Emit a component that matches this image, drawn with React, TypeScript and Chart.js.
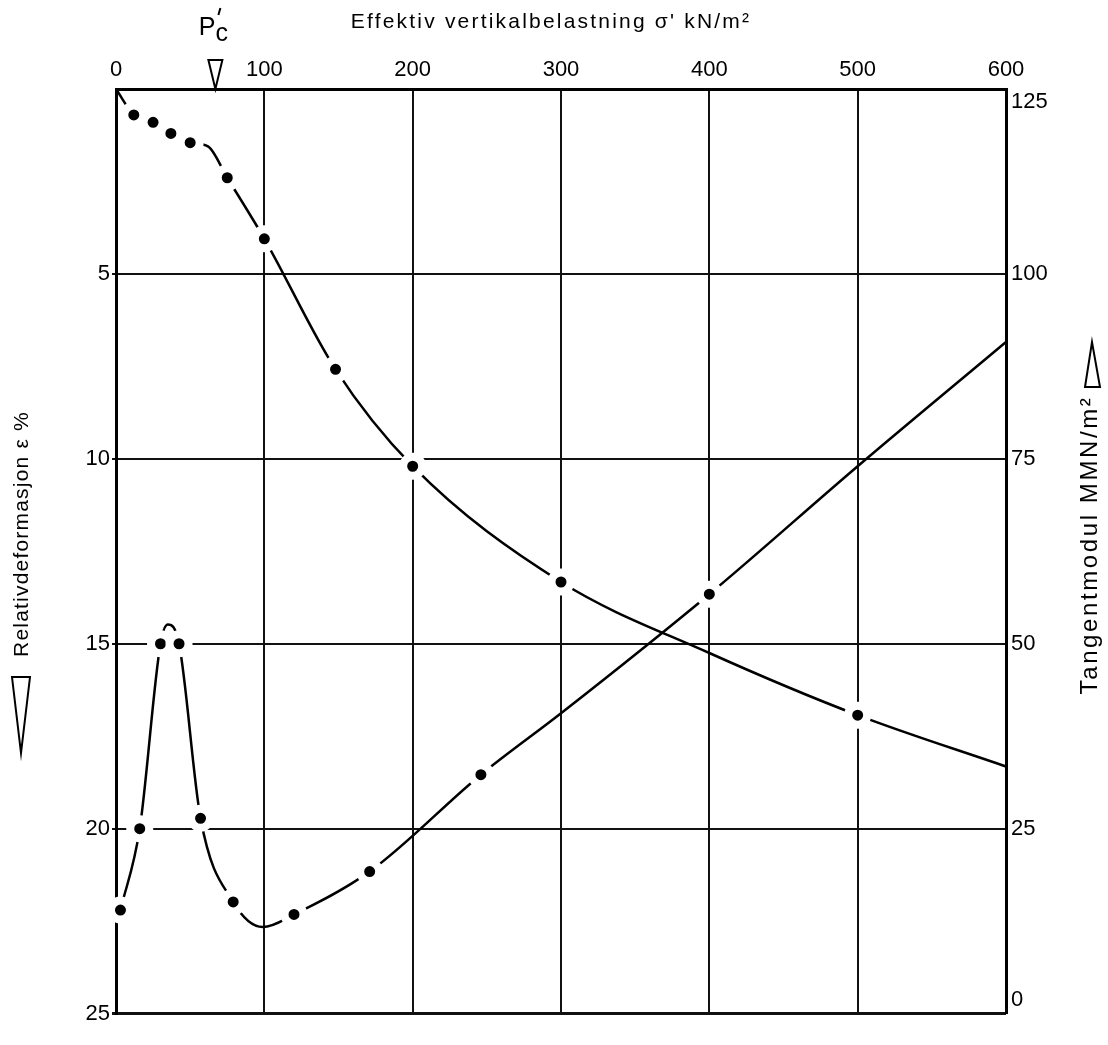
import React, { useEffect, useRef } from 'react';
import { Chart, registerables } from 'chart.js';

Chart.register(...registerables);

const FONT = '"Liberation Sans", Arial, Helvetica, sans-serif';

// Axis ticks
const loadTicks = [0, 100, 200, 300, 400, 500, 600];
const strainTicks = [0, 5, 10, 15, 20, 25];
const modulusTicks = [0, 25, 50, 75, 100, 125];

// Relativdeformasjon (left axis, %) vs effective vertical load (kN/m²)
const settlementLoad = [0, 12, 25, 37, 50, 62, 75, 100, 148, 200, 300, 400, 500, 600];
const settlementStrain = [0, 0.7, 0.9, 1.2, 1.45, 1.55, 2.4, 4.05, 7.58, 10.2, 13.33, 15.25, 16.93, 18.32];
const settlementMeasured = [false, true, true, true, true, false, true, true, true, true, true, false, true, false];

// Tangentmodul (right axis, MN/m²) vs effective vertical load
const modulusLoad = [3, 16, 30, 35, 42.5, 57, 79, 99, 120, 171, 246, 300, 400, 500, 600];
const modulusValue = [14, 25, 50, 52.6, 50, 26.4, 15.1, 11.7, 13.4, 19.2, 32.3, 40.6, 56.7, 74, 90.8];
const modulusMeasured = [true, true, true, false, true, true, true, false, true, true, true, false, true, false, false];

const preconsolidationLoad = 67;

const xTitle = "Effektiv vertikalbelastning σ' kN/m²";
const leftTitle = 'Relativdeformasjon ε %';
const rightTitle = 'Tangentmodul MMN/m²';

const annotationPlugin = {
  id: 'soilAnnotations',
  afterDraw(chart: any) {
    const ctx = chart.ctx as any;
    const a = chart.chartArea;
    const xs = chart.scales.x;
    ctx.save();
    ctx.fillStyle = '#000';
    ctx.strokeStyle = '#000';

    // top title
    ctx.font = `21px ${FONT}`;
    ctx.letterSpacing = '2.2px';
    ctx.textAlign = 'center';
    ctx.textBaseline = 'middle';
    ctx.fillText(xTitle, (a.left + a.right) / 2 - 10, 22);

    // P'c marker
    const px = xs.getPixelForValue(preconsolidationLoad);
    ctx.lineWidth = 2;
    ctx.beginPath();
    ctx.moveTo(px - 7, 60);
    ctx.lineTo(px + 7, 60);
    ctx.lineTo(px, a.top);
    ctx.closePath();
    ctx.stroke();
    ctx.letterSpacing = '0px';
    ctx.font = `25px ${FONT}`;
    ctx.textBaseline = 'alphabetic';
    ctx.textAlign = 'right';
    ctx.fillText('P', px, 35);
    ctx.textAlign = 'left';
    ctx.fillText('c', px, 41);
    ctx.beginPath();
    ctx.moveTo(px + 5, 8);
    ctx.lineTo(px + 3, 15);
    ctx.stroke();

    // left title
    ctx.save();
    ctx.translate(22, 534);
    ctx.rotate(-Math.PI / 2);
    ctx.font = `21px ${FONT}`;
    ctx.letterSpacing = '1.2px';
    ctx.textAlign = 'center';
    ctx.textBaseline = 'middle';
    ctx.fillText(leftTitle, 0, 0);
    ctx.restore();
    ctx.lineWidth = 2;
    ctx.beginPath();
    ctx.moveTo(12, 677);
    ctx.lineTo(30, 677);
    ctx.lineTo(21, 753);
    ctx.closePath();
    ctx.stroke();

    // right title
    ctx.save();
    ctx.translate(1090, 545);
    ctx.rotate(-Math.PI / 2);
    ctx.font = `24px ${FONT}`;
    ctx.letterSpacing = '2.6px';
    ctx.textAlign = 'center';
    ctx.textBaseline = 'middle';
    ctx.fillText(rightTitle, 0, 0);
    ctx.restore();
    ctx.beginPath();
    ctx.moveTo(1085, 387);
    ctx.lineTo(1100, 387);
    ctx.lineTo(1092, 342);
    ctx.closePath();
    ctx.stroke();

    ctx.restore();
  },
};

export default function App() {
  const ref = useRef<HTMLCanvasElement>(null);

  useEffect(() => {
    if (!ref.current) return;
    const tickFont = { family: FONT, size: 22 };
    const pointStyle = {
      pointHoverRadius: 0,
      pointBackgroundColor: '#000',
      pointBorderColor: '#fff',
      pointBorderWidth: 8,
    };
    const chart = new Chart(ref.current, {
      type: 'line',
      data: {
        datasets: [
          {
            label: 'Relativdeformasjon',
            data: settlementLoad.map((x, i) => ({ x, y: settlementStrain[i] })),
            xAxisID: 'x',
            yAxisID: 'y',
            borderColor: '#000',
            borderWidth: 2.5,
            tension: 0.4,
            cubicInterpolationMode: 'monotone',
            pointRadius: settlementMeasured.map((m) => (m ? 9.5 : 0)),
            ...pointStyle,
            clip: false,
          } as any,
          {
            label: 'Tangentmodul',
            data: modulusLoad.map((x, i) => ({ x, y: modulusValue[i] })),
            xAxisID: 'x',
            yAxisID: 'y2',
            borderColor: '#000',
            borderWidth: 2.5,
            tension: 0.4,
            cubicInterpolationMode: 'monotone',
            pointRadius: modulusMeasured.map((m) => (m ? 9.5 : 0)),
            ...pointStyle,
            clip: false,
          } as any,
        ],
      },
      options: {
        animation: false,
        responsive: false,
        devicePixelRatio: 1,
        layout: { padding: { top: 0, left: 0, right: 0, bottom: 7 } },
        plugins: {
          legend: { display: false },
          tooltip: { enabled: false },
        },
        events: [],
        scales: {
          x: {
            type: 'linear',
            position: 'top',
            min: 0,
            max: 600,
            afterBuildTicks: (s: any) => {
              s.ticks = loadTicks.map((value) => ({ value }));
            },
            afterFit: (s: any) => {
              s.height = 89;
            },
            grid: { color: '#111', lineWidth: 2, drawTicks: false },
            border: { color: '#000', width: 3 },
            ticks: { color: '#000', font: tickFont, padding: 6, maxRotation: 0, autoSkip: false },
            z: 1,
          },
          y: {
            type: 'linear',
            position: 'left',
            reverse: true,
            min: 0,
            max: 25,
            afterBuildTicks: (s: any) => {
              s.ticks = strainTicks.map((value) => ({ value }));
            },
            afterFit: (s: any) => {
              s.width = 116;
            },
            grid: {
              color: '#111',
              lineWidth: (c: any) => (c.tick && c.tick.value === 25 ? 3 : 2),
              tickLength: 4,
              tickColor: (c: any) => (c.tick && c.tick.value === 0 ? 'rgba(0,0,0,0)' : '#111'),
            },
            border: { color: '#000', width: 3 },
            ticks: {
              color: '#000',
              font: tickFont,
              padding: 2,
              callback: (v: any) => (v === 0 ? '' : String(v)),
            },
            z: 1,
          },
          y2: {
            type: 'linear',
            position: 'right',
            min: 0,
            max: 125,
            afterBuildTicks: (s: any) => {
              s.ticks = modulusTicks.map((value) => ({ value }));
            },
            afterFit: (s: any) => {
              s.width = 102;
            },
            grid: { display: false, drawTicks: false },
            border: { color: '#000', width: 3 },
            ticks: {
              color: '#000',
              font: tickFont,
              padding: 5,
              callback: (v: any) => (v === 125 ? ['', '125'] : v === 0 ? ['0', ''] : String(v)),
            },
            z: 1,
          },
        },
      } as any,
      plugins: [annotationPlugin],
    });
    return () => chart.destroy();
  }, []);

  return (
    <div style={{ position: 'absolute', left: 0, top: 0, width: 1108, height: 1045, background: '#fff' }}>
      <canvas ref={ref} width={1108} height={1045} style={{ display: 'block', width: 1108, height: 1045 }} />
    </div>
  );
}
